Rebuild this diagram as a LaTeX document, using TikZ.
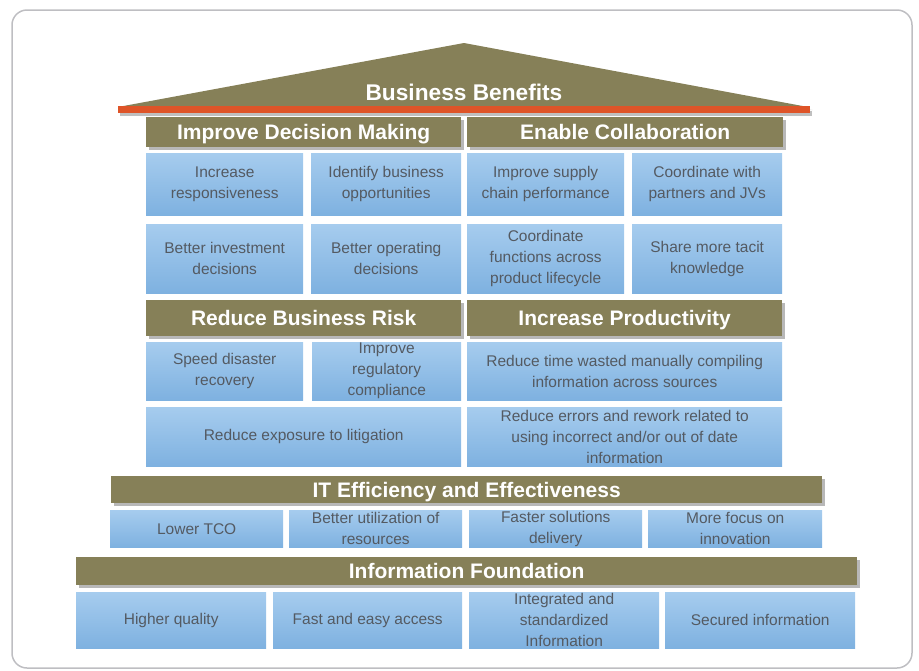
\documentclass[tikz,border=0pt]{standalone}
\usepackage{fontspec}
\setmainfont{Liberation Sans}
\usetikzlibrary{shadows}
\definecolor{olivebar}{RGB}{134,128,88}
\definecolor{roofred}{RGB}{222,84,40}
\definecolor{celltop}{RGB}{166,204,238}
\definecolor{cellbot}{RGB}{126,177,224}
\definecolor{celltext}{RGB}{84,90,98}
\definecolor{framegray}{RGB}{190,190,194}
\tikzset{
  cellbox/.style={anchor=north west, inner sep=0pt, align=center,
    top color=celltop, bottom color=cellbot, draw=none,
    text=celltext, font=\fontsize{15.5}{21}\selectfont},
  headbar/.style={anchor=north west, inner sep=0pt, fill=olivebar,
    text height=15.1pt, text depth=0pt,
    text=white, font=\fontsize{21}{24}\bfseries\selectfont,
    drop shadow={shadow xshift=3pt, shadow yshift=-3pt, fill=black, opacity=0.28}},
}
% \cellat{style}{name}{x1}{y1}{x2}{y2}{text}
\newcommand\cellat[7]{%
  \node[#1, minimum width={(#5-#3)*1pt}, minimum height={(#6-#4)*1pt}]
    (#2) at (#3,#4) {#7};}
\begin{document}
\begin{tikzpicture}[x=1pt,y=-1pt]
\useasboundingbox (0,0) rectangle (919,670);
% outer frame
\draw[framegray, line width=1.5pt, rounded corners=15pt] (12,10) rectangle (912,668);

% roof
\fill[black, opacity=0.12] (121,110) -- (466,46) -- (813,110) -- cycle;
\fill[olivebar] (118,107) -- (464,43) -- (808,107) -- cycle;
\fill[black, opacity=0.25] (120,111) rectangle (812,116);
\fill[roofred] (118,106) rectangle (810,113);
\node[text=white, font=\fontsize{22.7}{26}\bfseries\selectfont] (roof) at (464,92) {Business Benefits};

% decision making / collaboration
\cellat{headbar}{hdm}{146}{117}{461}{147}{Improve Decision Making}
\cellat{headbar}{hec}{467}{117}{783}{147}{Enable Collaboration}
\cellat{cellbox}{c11}{146}{153}{303}{215}{Increase\\responsiveness}
\cellat{cellbox}{c12}{311}{153}{461}{215}{Identify business\\opportunities}
\cellat{cellbox}{c13}{467}{153}{624}{215}{Improve supply\\chain performance}
\cellat{cellbox}{c14}{632}{153}{782}{215}{Coordinate with\\partners and JVs}
\cellat{cellbox}{c21}{146}{224}{303}{293}{Better investment\\decisions}
\cellat{cellbox}{c22}{311}{224}{461}{293}{Better operating\\decisions}
\cellat{cellbox}{c23}{467}{224}{624}{293}{Coordinate\\functions across\\product lifecycle}
\cellat{cellbox}{c24}{632}{224}{782}{293}{Share more tacit\\knowledge}

% risk / productivity
\cellat{headbar}{hrr}{146}{300}{461}{336}{Reduce Business Risk}
\cellat{headbar}{hip}{467}{300}{782}{336}{Increase Productivity}
\cellat{cellbox}{c31}{146}{342}{303}{400}{Speed disaster\\recovery}
\cellat{cellbox}{c32}{312}{342}{461}{400}{Improve\\regulatory\\compliance}
\cellat{cellbox}{c33}{467}{342}{782}{400}{Reduce time wasted manually compiling\\information across sources}
\cellat{cellbox}{c41}{146}{407}{461}{466}{Reduce exposure to litigation}
\cellat{cellbox}{c42}{467}{407}{782}{466}{Reduce errors and rework related to\\using incorrect and/or out of date\\information}

% IT efficiency
\cellat{headbar}{hit}{111}{476}{822}{503}{IT Efficiency and Effectiveness}
\cellat{cellbox}{i1}{110}{510}{283}{547}{Lower TCO}
\cellat{cellbox}{i2}{289}{510}{462}{547}{Better utilization of\\resources}
\cellat{cellbox}{i3}{469}{510}{642}{547}{Faster solutions\\delivery}
\cellat{cellbox}{i4}{648}{510}{822}{547}{More focus on\\innovation}

% information foundation
\cellat{headbar}{hif}{76}{557}{857}{585}{Information Foundation}
\cellat{cellbox}{f1}{76}{592}{266}{648}{Higher quality}
\cellat{cellbox}{f2}{273}{592}{462}{648}{Fast and easy access}
\cellat{cellbox}{f3}{469}{592}{659}{648}{\fontsize{15.5}{20}\selectfont Integrated and\\standardized\\Information}
\cellat{cellbox}{f4}{665}{592}{855}{648}{Secured information}
\end{tikzpicture}
\end{document}
